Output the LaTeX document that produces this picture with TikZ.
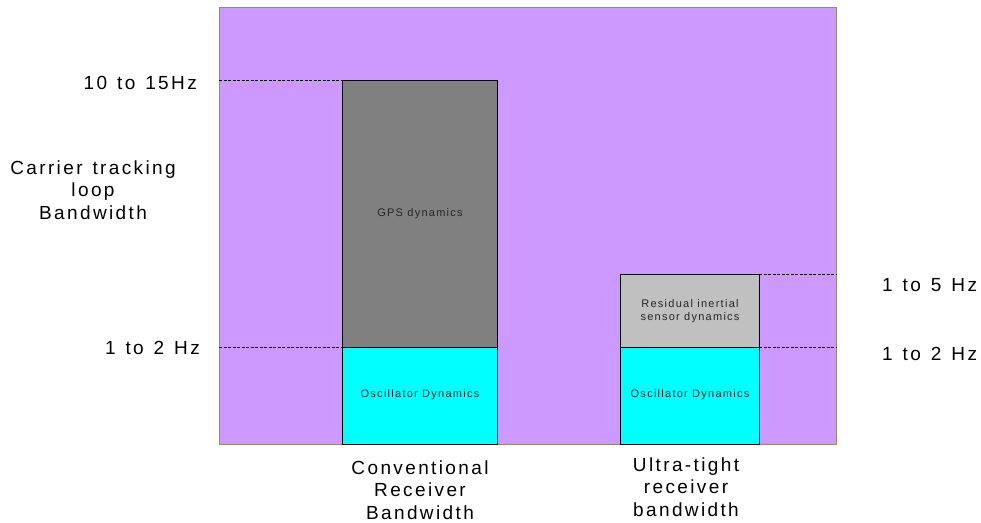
\documentclass[tikz,border=0pt]{standalone}
\usepackage{fontspec}
\setmainfont{Liberation Sans}
\newfontfamily\lblfont[LetterSpace=12.5,WordSpace=1.3]{Liberation Sans}
\newfontfamily\boxfont[LetterSpace=11.5]{Liberation Sans}
\definecolor{bgpurple}{HTML}{CC99FF}
\definecolor{bgedge}{HTML}{9C8A5C}
\definecolor{darkbar}{HTML}{808080}
\definecolor{lightbar}{HTML}{C0C0C0}
\definecolor{cyanbar}{HTML}{00FFFF}
\definecolor{boxtext}{HTML}{262626}
\begin{document}
\begin{tikzpicture}[x=1pt,y=-1pt,
  block/.style={draw=black,line width=0.9pt,inner sep=0pt,outer sep=0pt,anchor=north west},
  blocktext/.style={font=\boxfont\fontsize{11}{13}\selectfont,text=boxtext,align=center,inner sep=0pt},
  axlabel/.style={font=\lblfont\fontsize{19}{22.5}\selectfont,text=black,align=center,inner sep=0pt},
  dashline/.style={draw=black,line width=0.8pt,dash pattern=on 3pt off 1.5pt}]
\useasboundingbox (0,0) rectangle (981,522);
% background
\node[block,draw=bgedge,line width=1pt,fill=bgpurple,minimum width=617pt,minimum height=437pt] (bg) at (219,7) {};
% left bar
\node[block,fill=darkbar,minimum width=154.6pt,minimum height=267.3pt] (gps) at (342.7,80) {};
\node[block,fill=cyanbar,minimum width=154.6pt,minimum height=96.7pt] (osc1) at (342.7,347.3) {};
% right bar
\node[block,fill=lightbar,minimum width=138.6pt,minimum height=72.6pt] (res) at (620.7,274.7) {};
\node[block,fill=cyanbar,minimum width=138.6pt,minimum height=96.7pt] (osc2) at (620.7,347.3) {};
% box texts
\node[blocktext] (gpst) at (gps.center) {GPS dynamics};
\node[blocktext] (osc1t) at ([yshift=1pt]osc1.center) {Oscillator Dynamics};
\node[blocktext] (rest) at ([yshift=-0.5pt]res.center) {Residual inertial\\sensor dynamics};
\node[blocktext] (osc2t) at ([yshift=1pt]osc2.center) {Oscillator Dynamics};
% dashed levels
\draw[dashline] (gps.north west -| bg.west) -- (gps.north west);
\draw[dashline] (osc1.north west -| bg.west) -- (osc1.north west);
\draw[dashline] (res.north east) -- (res.north east -| bg.east);
\draw[dashline] (res.south east) -- (res.south east -| bg.east);
% labels
\node[axlabel,anchor=east] (l15) at (197,83) {10 to 15Hz};
\node[axlabel,anchor=east] (l2a) at (200,348) {1 to 2 Hz};
\node[axlabel] (ctl) at (93,190) {Carrier tracking\\loop\\Bandwidth};
\node[axlabel,anchor=west] (r5) at (882,285) {1 to 5 Hz};
\node[axlabel,anchor=west] (r2) at (882,354) {1 to 2 Hz};
\node[axlabel] (conv) at (420,490) {Conventional\\Receiver\\Bandwidth};
\node[axlabel] (ultra) at (686,487) {Ultra-tight\\receiver\\bandwidth};
\end{tikzpicture}
\end{document}
